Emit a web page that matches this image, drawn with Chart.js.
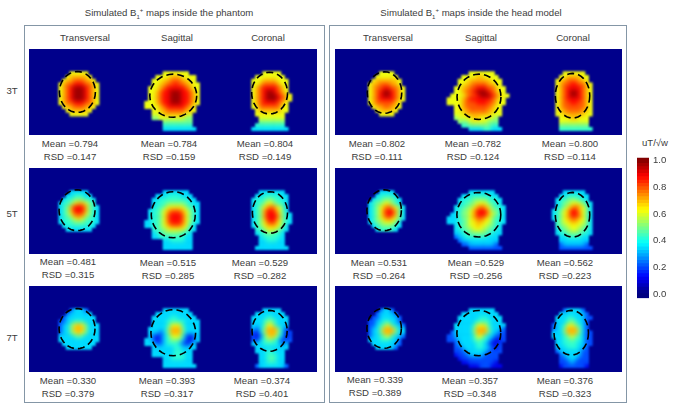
<!DOCTYPE html>
<html>
<head>
<meta charset="utf-8">
<script src="https://cdn.jsdelivr.net/npm/chart.js@4"></script>
<style>
html, body { margin: 0; padding: 0; background: #fff; }
#page { position: relative; width: 675px; height: 406px; overflow: hidden; font-family: "Liberation Sans", sans-serif; font-size: 9.6px; color: #3c3c3c; }
.box { position: absolute; border: 1px solid #8496a6; box-sizing: border-box; }
.txt { position: absolute; white-space: nowrap; transform: translate(-50%, -50%); line-height: 1; }
.txt sub, .txt sup { font-size: 6px; line-height: 0; }
canvas { position: absolute; display: block; }
</style>
</head>
<body>
<div id="page"></div>
<script>
const group_titles = ['Simulated B<sub>1</sub><sup>+</sup> maps inside the phantom', 'Simulated B<sub>1</sub><sup>+</sup> maps inside the head model']
const view_labels = ['Transversal', 'Sagittal', 'Coronal']
const field_labels = ['3T', '5T', '7T']
const phantom_mean = ['0.794','0.784','0.804','0.481','0.515','0.529','0.330','0.393','0.374']
const phantom_rsd = ['0.147','0.159','0.149','0.315','0.285','0.282','0.379','0.317','0.401']
const head_mean = ['0.802','0.782','0.800','0.531','0.529','0.562','0.339','0.357','0.376']
const head_rsd = ['0.111','0.124','0.114','0.264','0.256','0.223','0.389','0.348','0.323']
const colorbar_ticks = [0, 0.2, 0.4, 0.6, 0.8, 1]
const colorbar_edges = [-0.03,0,0.025,0.05,0.075,0.1,0.125,0.15,0.175,0.2,0.225,0.25,0.275,0.3,0.325,0.35,0.375,0.4,0.425,0.45,0.475,0.5,0.525,0.55,0.575,0.6,0.625,0.65,0.675,0.7,0.725,0.75,0.775,0.8,0.825,0.85,0.875,0.9,0.925,0.95,0.975,1,1.02]

// map cells: one digit per cell, a = top of the scale, rows start at row 5 of each panel
const level_values = [0,0.1,0.2,0.34,0.42,0.5,0.61,0.7,0.79,0.87,0.97]

const ph_3t_tra = ['000000000066666','0000000006777776','00000000677888776','000000067889998876','00000006789aaa9876','00000006789aaa9876','00000006789aaa9876','00000006789aaa9876','000000067889998876','00000000677888776','0000000006777776','000000000066666']
const ph_3t_sag = ['0000000006666666','000000066667776666','000000666778887766','0000006677889887766','0000066678999998766','00000667899aaa99876','00000667899aaa99876','00000667899aaa99876','00006667899aaa99876','000066667899999876','000000667788888776','00000066677777766','00000055666666655','00000000055555555','00000000044444444','000000000333333333']
const ph_3t_cor = ['000000000066666','0000000066666666','00000006667777666','00000006678888766','00000006789999876','00000006789aa9876','00000006789aaa9876','00000006789aaa9876','00000006789999876','00000006688888866','00000000677777766','0000000066666666','0000000006666666','0000000005555555','0000000044444444','00000003333333333']

const ph_5t_tra = ['000000000033333','0000000003344433','00000000344555443','00000003445677654','000000034579997543','000000034579997543','000000034568886543','000000034456765443','000000034445554443','00000000344444443','0000000003333333']
const ph_5t_sag = ['0000000003333333','00000003334444333','000000334444444433','0000003444555554433','0000003445666665443','0000034456788876543','0000034456899986543','0000034456899986543','0000334456899986543','000033445678887643','000000445566666543','00000034455555443','00000033444444433','00000000033444433','00000000033333333','00000000033333333']
const ph_5t_cor = ['0000000003333333','00000000334444433','00000003444554443','00000003445665443','00000003456787653','00000003457998653','000000034579997543','000000034579997543','000000034568986543','00000003456777653','00000000445666543','0000000034455443','0000000003444443','0000000003344433','0000000003333333','00000000333333333']

const ph_7t_tra = ['000000000023332','0000000002333333','00000000233333333','00000002233444333','000000023356765333','000000023357775333','000000023356765333','000000033334543333','000000033333333333','00000000333333333','0000000003333333']
const ph_7t_sag = ['0000000003333333','00000003333333333','000000333334433333','0000003333444443333','0000003333466643333','0000033333577753333','0000033323577753333','00000321234666 42123'.replace(' ',''),'0000332123455532123','000033322344432123','000000333333443333','00000033333344333','00000033333344433','00000000033444433','00000000033333333','000000000333333333']
const ph_7t_cor = ['000000000033333','0000000033333333','00000003333443333','00000003334554333','00000003334664333','00000003235777532','000000021357775312','000000021246764312','000000021345543122','00000003334444323','00000000333333333','0000000033344333','0000000003344433','0000000003345433','0000000003344433','00000000233333332']

const hd_3t_tra = ['000000000006666','0000000000666666','00000000067777776','00000000677888776','000000006788998876','000000006789aa9876','000000006789aa9876','000000006789999876','00000000678888876','00000000067788776','0000000000677776','000000000006666']
const hd_3t_sag = ['0000000006666666','00000006666776666','000000666777777666','000000667788887766','0000066778899988766','00000667889aaa98766','000066667889aaa98766','0006666789999998766','0006666788899988766','000006678888888766','000006677888887766','000006667777777666','00000566667766665','00000055566666555','00000004455555544','000000000333344333']
const hd_3t_cor = ['000000000666666','0000000066777766','0000000677888776','00000006788998876','00000006789999876','00000006789aa9876','00000006789aa9876','00000006789999876','00000006788998876','00000006788888876','00000006778888776','00000006677777766','0000000066677666','0000000066666666','0000000055555555','00000000444444444']

const hd_5t_tra = ['000000000003333','0000000000344443','00000000034455543','00000000345566543','000000003456787653','000000003456899753','000000003456899753','000000003456787653','00000000345566653','00000000034555543','0000000000344443']
const hd_5t_sag = ['0000000003333333','00000003344444433','000000344455554443','000000344556665443','0000034455678765443','0000034556799975543','0000334556799976543','0003334556788765443','0003334456677665443','000003455667665543','000003445566655443','000003344555554433','00000233444444333','00000023333333333','00000002233333332','000000000222222222']
const hd_5t_cor = ['000000000333333','0000000033444433','0000000344555443','00000003455666543','00000003456787653','00000034567997653','00000034567998653','00000034567887653','00000004566776653','00000004556666553','00000003455665543','00000003445555443','0000000033444433','0000000033333333','0000000023333332','00000000222222222']

const hd_7t_tra = ['000000000002332','0000000000233332','00000000022333332','00000000223344332','000000002234564332','000000002335777533','000000002335777533','000000002334564332','00000000333444332','00000000033333332','0000000000333332']
const hd_7t_sag = ['0000000003333333','00000003333333333','000000333333443333','000000333334444333','0000033333466643333','0000033333577753332','0000233333577753322','0002233333466433222','0002223333454432112','000002333334432112','000002233334433212','000002223333332222','00000122233332222','00000012222222222','00000001122222221','000000000111222111']
const hd_7t_cor = ['000000000233332','0000000033333332','00000003334433322','0000000333454332','0000002334665432','0000002335777532','00000033357775322','00000033345654322','00000003344544322','00000003344443322','0000000333444332','0000000233333322','0000000023333322','0000000022333222','0000000022232222','0000000012222221']

// dashed rings: centre x, centre y, radius x, radius y in cells
const ph_rings = [[12.1,10.5,4.9,5.5],[11.8,11.5,6.4,5.8],[11.9,10.8,4.9,5.6],[12,10.3,4.9,5.5],[11.8,11.5,6,6.2],[12,10.9,4.8,5.6],[12,10.4,4.9,5.4],[11.8,11.5,6.1,6.2],[11.9,11,4.8,5.5]]
const hd_rings = [[12.4,10.65,4.7,5.6],[11.75,11.8,6,6.1],[11.6,11.5,4.7,6],[12.3,10.3,4.7,5.5],[11.7,11.5,6,6],[11.6,11.5,4.7,6],[12.3,10.3,4.7,5.4],[11.7,11.6,6,6.1],[11.25,11.5,4.7,6]]

const ph_maps = [ph_3t_tra,ph_3t_sag,ph_3t_cor,ph_5t_tra,ph_5t_sag,ph_5t_cor,ph_7t_tra,ph_7t_sag,ph_7t_cor]
const hd_maps = [hd_3t_tra,hd_3t_sag,hd_3t_cor,hd_5t_tra,hd_5t_sag,hd_5t_cor,hd_7t_tra,hd_7t_sag,hd_7t_cor]

const page = document.getElementById('page')
const first_row = 5
const font_family = '"Liberation Sans", sans-serif'

function add_text(html, x, y){
    const el = document.createElement('div')
    el.className = 'txt'
    el.style.left = x + 'px'
    el.style.top = y + 'px'
    el.innerHTML = html
    page.appendChild(el)
}

function add_box(x, y, w, h){
    const el = document.createElement('div')
    el.className = 'box'
    el.style.cssText = 'left:'+x+'px;top:'+y+'px;width:'+w+'px;height:'+h+'px'
    page.appendChild(el)
}

function add_canvas(x, y, w, h){
    const cv = document.createElement('canvas')
    cv.width = w
    cv.height = h
    cv.style.cssText = 'left:'+x+'px;top:'+y+'px;width:'+w+'px;height:'+h+'px'
    page.appendChild(cv)
    return cv.getContext('2d')
}

function clamp01(v){ return Math.max(0, Math.min(1, v)) }

function jet(v){
    const r = clamp01(1.5 - Math.abs(4*v - 3))
    const g = clamp01(1.5 - Math.abs(4*v - 2))
    const b = clamp01(1.5 - Math.abs(4*v - 1))
    return 'rgb('+Math.round(r*255)+','+Math.round(g*255)+','+Math.round(b*255)+')'
}

// smooth the cell colours inside the head only, then lay the navy behind, the ring stays sharp
const soften_cells = {
    id: 'soften_cells',
    afterDatasetDraw(chart, args){
        if (args.index !== 1) return
        const ctx = chart.ctx
        ctx.save()
        ctx.setTransform(1, 0, 0, 1, 0, 0)
        ctx.globalCompositeOperation = 'source-atop'
        ctx.filter = 'blur(2px)'
        ctx.drawImage(ctx.canvas, 0, 0)
        ctx.filter = 'blur(0.8px)'
        ctx.globalCompositeOperation = 'copy'
        ctx.drawImage(ctx.canvas, 0, 0)
        ctx.filter = 'none'
        ctx.globalCompositeOperation = 'destination-over'
        ctx.fillStyle = '#00008b'
        ctx.fillRect(0, 0, ctx.canvas.width, ctx.canvas.height)
        ctx.restore()
    }
}

function draw_map(x, y, w, h, rows, ring){
    const cells = []
    const colors = []
    rows.forEach(function(row, r){
        row.split('').forEach(function(ch, c){
            const level = parseInt(ch, 11)
            if (level > 0){
                cells.push({x: c + 0.5, y: r + first_row + 0.5})
                colors.push(jet(level_values[level]))
            }
        })
    })
    const ring_pts = []
    for (let i = 0; i <= 36; i++){
        const a = i / 36 * 2 * Math.PI
        ring_pts.push({x: ring[0] + ring[2]*Math.cos(a), y: ring[1] + ring[3]*Math.sin(a)})
    }
    new Chart(add_canvas(x, y, w, h), {
        type: 'scatter',
        data: { datasets: [
            { data: ring_pts, showLine: true, pointRadius: 0, borderColor: '#000', borderWidth: 1.6, borderDash: [7, 4] },
            { data: cells, pointStyle: 'rect', pointRadius: 3, borderWidth: 0, backgroundColor: colors, pointBackgroundColor: colors }
        ]},
        options: {
            responsive: false,
            animation: false,
            events: [],
            layout: { padding: 0 },
            plugins: { legend: { display: false }, tooltip: { enabled: false } },
            scales: {
                x: { display: false, min: 0, max: w / 4 },
                y: { display: false, min: 0, max: 21, reverse: true }
            }
        },
        plugins: [soften_cells]
    })
}

function draw_colorbar(){
    const datasets = []
    for (let i = 0; i < colorbar_edges.length - 1; i++){
        const lo = colorbar_edges[i]
        const hi = colorbar_edges[i+1]
        datasets.push({ data: [[lo, hi + 0.004]], backgroundColor: jet(Math.max(0, Math.min(1, (lo + hi) / 2))), borderWidth: 0, barPercentage: 1, categoryPercentage: 1, grouped: false })
    }
    new Chart(add_canvas(637, 148, 38, 160), {
        type: 'bar',
        data: { labels: [''], datasets: datasets },
        options: {
            responsive: false,
            animation: false,
            events: [],
            layout: { padding: { top: 5, bottom: 5 } },
            plugins: { legend: { display: false }, tooltip: { enabled: false } },
            scales: {
                x: { display: false },
                y: {
                    position: 'right',
                    min: -0.03,
                    max: 1.02,
                    grid: { display: false, drawTicks: false },
                    border: { display: false },
                    afterBuildTicks: function(scale){ scale.ticks = colorbar_ticks.map(function(v){ return {value: v} }) },
                    afterFit: function(scale){ scale.width = 26 },
                    ticks: {
                        padding: 4,
                        color: '#3c3c3c',
                        font: { family: font_family, size: 9.6 },
                        callback: function(v){ return v.toFixed(1) }
                    }
                }
            }
        }
    })
}

// layout in px
const row_tops = [48.5, 168, 286]
const ph_x = [29, 126, 222]
const ph_w = [97, 96, 95]
const hd_x = [335, 432, 526]
const hd_w = [97, 94, 96]
const ph_text_x = [70,169,265,68,168,260,68,167,262]
const ph_text_y = [144,144,144,262,263,263,381,381,381]
const hd_text_x = [377,473,570,379,476,565,375,470,565]
const hd_text_y = [144,144,144,263,263,263,380,381,381]

add_box(24, 25, 301, 378)
add_box(329, 25, 298, 378)

add_text(group_titles[0], 169, 13)
add_text(group_titles[1], 471, 13)

const ph_head_x = [85, 177, 268]
const hd_head_x = [388, 481, 573]
view_labels.forEach(function(label, i){
    add_text(label, ph_head_x[i], 38)
    add_text(label, hd_head_x[i], 38)
})

const field_y = [91, 214, 338]
field_labels.forEach(function(label, i){ add_text(label, 12, field_y[i]) })

for (let i = 0; i < 9; i++){
    const row = Math.floor(i / 3)
    const col = i % 3
    draw_map(ph_x[col], row_tops[row], ph_w[col], 86, ph_maps[i], ph_rings[i])
    draw_map(hd_x[col], row_tops[row], hd_w[col], 86, hd_maps[i], hd_rings[i])
    add_text('Mean =' + phantom_mean[i], ph_text_x[i], ph_text_y[i])
    add_text('RSD =' + phantom_rsd[i], ph_text_x[i], ph_text_y[i] + 12.5)
    add_text('Mean =' + head_mean[i], hd_text_x[i], hd_text_y[i])
    add_text('RSD =' + head_rsd[i], hd_text_x[i], hd_text_y[i] + 12.5)
}

add_text('uT/√w', 655, 143)
draw_colorbar()
</script>
</body>
</html>
